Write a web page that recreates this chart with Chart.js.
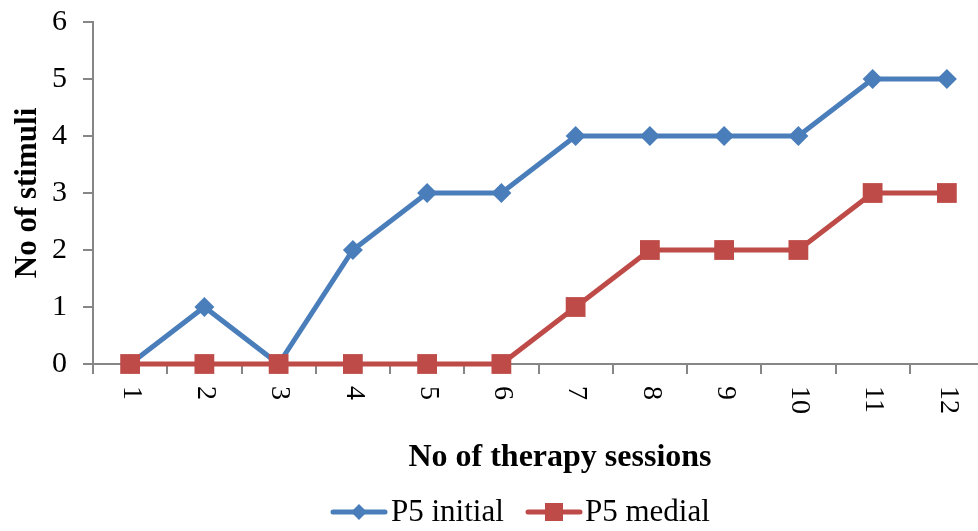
<!DOCTYPE html>
<html>
<head>
<meta charset="utf-8">
<script src="https://cdn.jsdelivr.net/npm/chart.js@4"></script>
<style>
    html, body { margin: 0; padding: 0; background: #fff; overflow: hidden; }
    #wrap { width: 978px; height: 531px; overflow: hidden; }
</style>
</head>
<body>
<div id="wrap"><canvas id="chart" width="984" height="531"></canvas></div>
<script>
const sessions = ['1', '2', '3', '4', '5', '6', '7', '8', '9', '10', '11', '12']
const p5Initial = [0, 1, 0, 2, 3, 3, 4, 4, 4, 4, 5, 5]
const p5Medial = [0, 0, 0, 0, 0, 0, 1, 2, 2, 2, 3, 3]
const yTicks = [0, 1, 2, 3, 4, 5, 6]

const BLUE = '#4a7ebb'
const RED = '#be4b48'
const AXIS = '#868686'
const SERIF = '"Liberation Serif", "Times New Roman", serif'

// legend sample: short line with the marker in the middle
function legendSample(color, style) {
    const c = document.createElement('canvas')
    c.width = 58
    c.height = 22
    const g = c.getContext('2d')
    g.strokeStyle = color
    g.lineWidth = 5
    g.lineCap = 'round'
    g.beginPath()
    g.moveTo(3, 11)
    g.lineTo(55, 11)
    g.stroke()
    g.fillStyle = color
    if (style === 'diamond') {
        g.beginPath()
        g.moveTo(29, 3); g.lineTo(37, 11); g.lineTo(29, 19); g.lineTo(21, 11)
        g.closePath()
        g.fill()
    } else {
        g.fillRect(20, 2, 18, 18)
    }
    return c
}

const extras = {
    id: 'extras',
    afterDraw(chart) {
        const ctx = chart.ctx
        const x = chart.scales.x
        ctx.save()
        ctx.fillStyle = '#000'

        // x tick labels, turned clockwise
        ctx.font = '28px ' + SERIF
        ctx.textAlign = 'left'
        ctx.textBaseline = 'middle'
        sessions.forEach((s, i) => {
            ctx.save()
            ctx.translate(x.getPixelForValue(i) + 1, 386)
            ctx.rotate(Math.PI / 2)
            ctx.fillText(s, 0, 0)
            ctx.restore()
        })

        // axis titles
        ctx.font = 'bold 32px ' + SERIF
        ctx.textAlign = 'center'
        ctx.textBaseline = 'middle'
        ctx.fillText('No of therapy sessions', 560, 458)
        ctx.save()
        ctx.font = 'bold 31px ' + SERIF
        ctx.translate(28, 193)
        ctx.rotate(-Math.PI / 2)
        ctx.fillText('No of stimuli', 0, 0)
        ctx.restore()

        // legend
        ctx.font = '31px ' + SERIF
        ctx.textAlign = 'left'
        ctx.drawImage(legendSample(BLUE, 'diamond'), 330, 501)
        ctx.fillText('P5 initial', 391, 513)
        ctx.drawImage(legendSample(RED, 'square'), 525, 501)
        ctx.fillText('P5 medial', 585, 513)
        ctx.restore()
    }
}

new Chart(document.getElementById('chart'), {
    type: 'line',
    data: {
        labels: sessions,
        datasets: [
            {
                label: 'P5 initial',
                data: p5Initial,
                borderColor: BLUE,
                backgroundColor: BLUE,
                borderWidth: 5,
                pointStyle: 'rectRot',
                pointRadius: 10,
                pointBorderWidth: 0,
                tension: 0,
                clip: false,
                order: 1
            },
            {
                label: 'P5 medial',
                data: p5Medial,
                borderColor: RED,
                backgroundColor: RED,
                borderWidth: 5,
                pointStyle: 'rect',
                pointRadius: 14,
                pointBorderWidth: 0,
                tension: 0,
                clip: false,
                order: 0
            }
        ]
    },
    options: {
        responsive: false,
        animation: false,
        devicePixelRatio: 1,
        layout: { autoPadding: false, padding: { left: 0, right: 0, top: 22, bottom: 0 } },
        plugins: {
            legend: { display: false },
            tooltip: { enabled: false }
        },
        scales: {
            x: {
                offset: true,
                grid: { display: true, drawOnChartArea: false, drawTicks: true, tickLength: 10, color: AXIS, lineWidth: 2, offset: true },
                border: { color: AXIS, width: 2 },
                ticks: { display: false },
                afterFit: s => {
                    s.height = 167
                    s.paddingLeft = 0
                    s.paddingRight = 0
                }
            },
            y: {
                min: 0,
                max: 6,
                afterBuildTicks: s => { s.ticks = yTicks.map(v => ({ value: v })) },
                grid: { display: true, drawOnChartArea: false, drawTicks: true, tickLength: 10, color: AXIS, lineWidth: 2 },
                border: { color: AXIS, width: 2 },
                ticks: { color: '#000', font: { family: SERIF, size: 30 }, padding: 16 },
                afterFit: s => {
                    s.width = 93
                    s.paddingTop = 0
                    s.paddingBottom = 0
                }
            }
        }
    },
    plugins: [extras]
})
</script>
</body>
</html>
